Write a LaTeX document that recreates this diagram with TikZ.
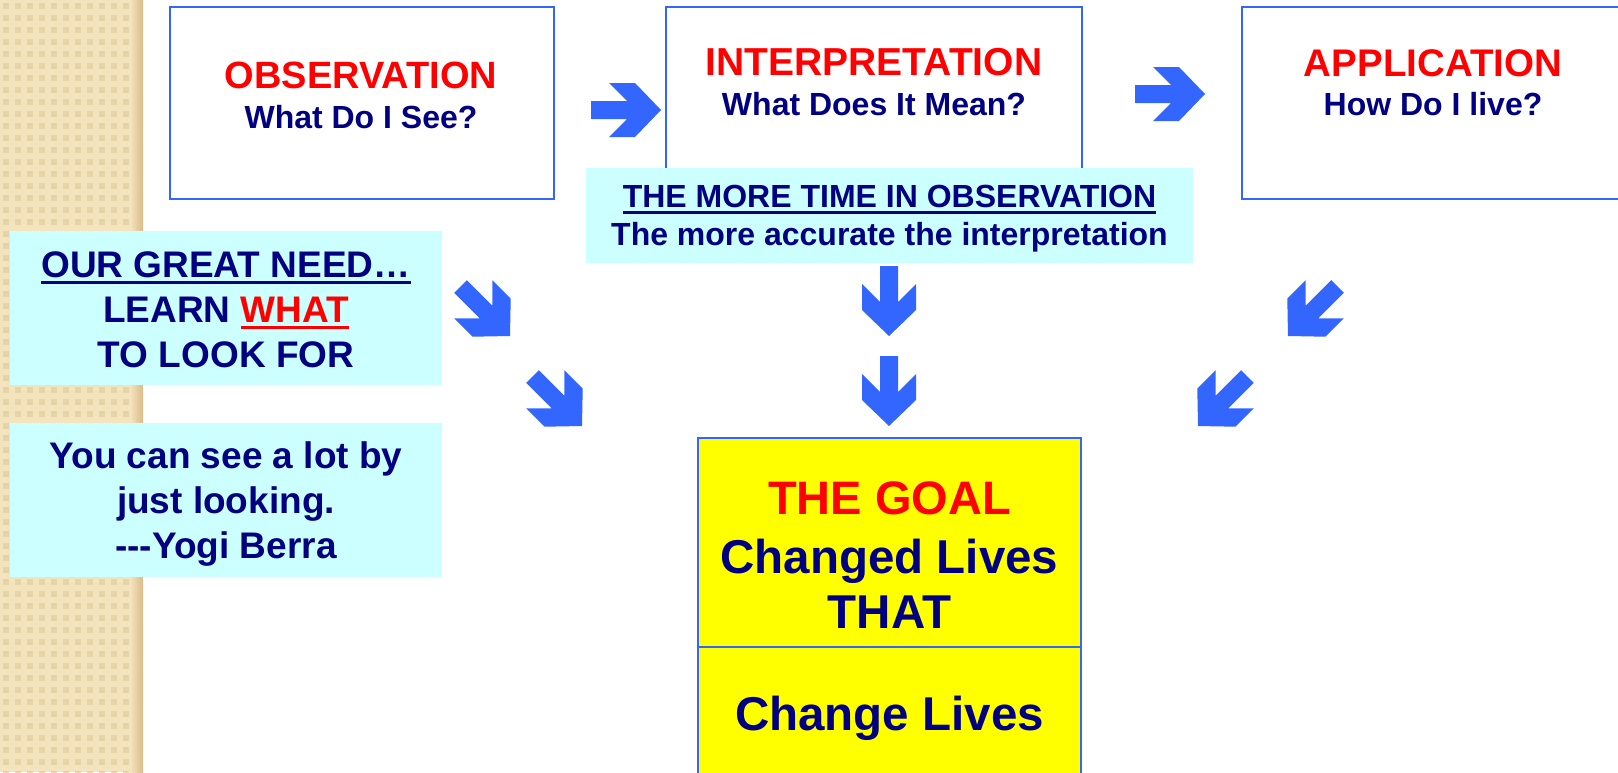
\documentclass[tikz,border=0pt]{standalone}
\usepackage{fontspec}
\setmainfont{Liberation Sans}
\usepackage{tikz}
\usetikzlibrary{positioning}
\definecolor{navytext}{HTML}{000080}
\definecolor{redtext}{HTML}{FF0000}
\definecolor{boxblue}{HTML}{3366FF}
\definecolor{notecyan}{HTML}{CCFFFF}
\definecolor{goalyellow}{HTML}{FFFF00}
\definecolor{paper}{HTML}{F4E4BE}
\definecolor{paperdark}{HTML}{E6D3A8}
\newcommand\ulinetext[1]{\setbox0\hbox{#1}\rlap{\rule[-6.5pt]{\wd0}{3pt}}\box0}
\tikzset{stepbox/.style = {draw=boxblue, line width=2pt, fill=white, inner sep=0pt},
         notebox/.style = {fill=notecyan, inner sep=0pt},
         bodytxt/.style = {inner sep=0pt, anchor=base, text=navytext,
                           font=\bfseries\fontsize{#1}{#1}\selectfont},
         titletxt/.style = {bodytxt=#1, text=redtext},
         pics/blockarrow/.style = {code={
           \fill [boxblue] (-70,-9) -- (-34,-9) -- (-52,-27) -- (-26,-27) -- (0,0)
             -- (-26,27) -- (-52,27) -- (-34,9) -- (-70,9) -- cycle;}}}

\begin{document}
\begin{tikzpicture}[x=1pt, y=-1pt]
    \useasboundingbox (0,0) rectangle (1618,772);
    \clip (0,0) rectangle (1618,772);
    \fill [paper] (0,0) rectangle (143,772);
    \foreach \i in {0,...,11} {
      \foreach \j in {0,...,64} {
        \fill [paperdark] (12*\i+3,12*\j+3) rectangle +(6,6);
      }
    }
    \shade [left color=paper, right color=paperdark!70!brown] (130,0) rectangle (143,772);

    \node [stepbox, minimum width=384, minimum height=192] (obs) at (362,103) {};
    \node [stepbox, minimum width=416, minimum height=192] (interp) at (874,103) {};
    \node [stepbox, minimum width=382, minimum height=192] (appl) at (1433,103) {};
    \node [titletxt=38] (obstitle) at (361,88) {OBSERVATION};
    \node [bodytxt=32] (obsask) at (361,128) {What Do I See?};
    \node [titletxt=39] (interptitle) at (874,75) {INTERPRETATION};
    \node [bodytxt=32] (interpask) at (874,115) {What Does It Mean?};
    \node [titletxt=38.5] (appltitle) at (1433,76) {APPLICATION};
    \node [bodytxt=32] (applask) at (1433,115) {How Do I live?};

    \node [notebox, minimum width=607, minimum height=95] (moretime) at (889.5,215) {};
    \node [bodytxt=32] (moretop) at (889.5,207) {\ulinetext{THE MORE TIME IN OBSERVATION}};
    \node [bodytxt=32] (morebot) at (889.5,245) {The more accurate the interpretation};

    \node [notebox, minimum width=432, minimum height=154] (need) at (226,308) {};
    \node [bodytxt=37] (needtop) at (226,277) {\ulinetext{OUR GREAT NEED…}};
    \node [bodytxt=37] (needmid) at (226,322) {LEARN \textcolor{redtext}{\ulinetext{WHAT}}};
    \node [bodytxt=37] (needbot) at (226,367) {TO LOOK FOR};
    \node [notebox, minimum width=432, minimum height=154] (yogi) at (226,500) {};
    \node [bodytxt=37] (yogitop) at (226,468) {You can see a lot by};
    \node [bodytxt=37] (yogimid) at (226,513) {just looking.};
    \node [bodytxt=37] (yogibot) at (226,558) {\mbox{-}\mbox{-}\mbox{-}Yogi Berra};

    \node [stepbox, fill=goalyellow, minimum width=383, minimum height=400, anchor=north] (goal) at (889.5,437) {};
    \coordinate (split) at (889.5,647);
    \draw [boxblue, line width=2pt] (goal.west |- split) -- (goal.east |- split);
    \node [titletxt=47] (goaltitle) at (889.5,514) {THE GOAL};
    \node [bodytxt=47.5] (goalchanged) at (889.5,573) {Changed Lives};
    \node [bodytxt=47.5] (goalthat) at (889.5,628) {THAT};
    \node [bodytxt=47.5] (goalchange) at (889.5,730) {Change Lives};

    \foreach \tx/\ty/\turn in {661/110/0, 1205/94/0, 510/336/-45, 582/426/-45,
                               889/336/-90, 889/426/-90, 1288/336/-135, 1198/426/-135} {
      \pic [rotate=\turn] at (\tx,\ty) {blockarrow};
    }
\end{tikzpicture}
\end{document}
